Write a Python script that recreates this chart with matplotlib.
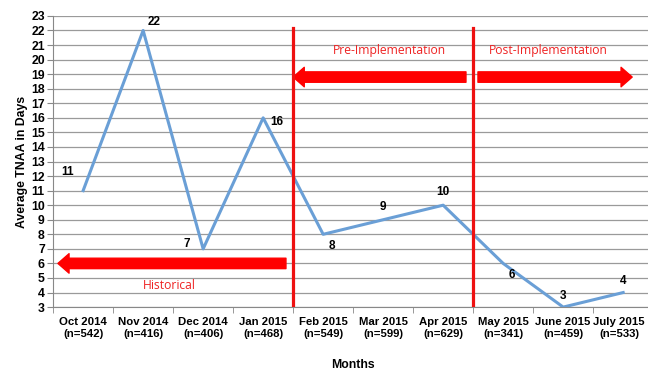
import matplotlib.pyplot as plt
from matplotlib.transforms import ScaledTranslation

months = ["Oct 2014", "Nov 2014", "Dec 2014", "Jan 2015", "Feb 2015",
          "Mar 2015", "Apr 2015", "May 2015", "June 2015", "July 2015"]
counts = [542, 416, 406, 468, 549, 599, 629, 341, 459, 533]
tnaa = [11, 22, 7, 16, 8, 9, 10, 6, 3, 4]

# label offsets in points, per month
label_offsets = [(-11, 9), (8, 2), (-12, -1), (10, -7), (6, -13),
                 (0, 5), (0, 5), (6, -13), (0, 4), (0, 4)]

plt.rcParams['font.family'] = ['Liberation Sans', 'DejaVu Sans']

fig = plt.figure(figsize=(6.48, 3.70), dpi=100)
ax = fig.add_axes([0.082, 0.170, 0.926, 0.787])

x = list(range(len(months)))
ax.plot(x, tnaa, color="#6a9fd6", linewidth=2.2, zorder=3)

for i, v in enumerate(tnaa):
    ax.annotate(str(v), (i, v), xytext=label_offsets[i], textcoords="offset points",
                ha="center", va="bottom", fontsize=8.5, fontweight="bold", color="black")

ax.set_xlim(-0.5, 9.42)
ax.set_ylim(3, 23)
ax.set_yticks(range(3, 24))
ax.set_xticks(x)
ax.set_xticklabels([f"{m}\n(n={n})" for m, n in zip(months, counts)],
                   fontsize=8.2, fontweight="bold", linespacing=1.3)
ax.set_xticks([i + 0.5 for i in range(-1, 10)], minor=True)
ax.tick_params(axis="x", which="major", length=0, pad=7)
ax.tick_params(axis="x", which="minor", length=4, color="#888888")
ax.tick_params(axis="y", labelsize=8.8, length=4, color="#888888", pad=2)
for lab in ax.get_yticklabels():
    lab.set_fontweight("bold")
# nudge the last month label so it stays inside the canvas
last = ax.get_xticklabels()[-1]
last.set_transform(last.get_transform() + ScaledTranslation(-3 / 72, 0, fig.dpi_scale_trans))

ax.grid(axis="y", color="#9a9a9a", linewidth=0.9)
ax.set_axisbelow(True)
for side in ["top", "right"]:
    ax.spines[side].set_visible(False)
ax.spines["left"].set_color("#888888")
ax.spines["bottom"].set_color("#888888")

ax.set_ylabel("Average TNAA in Days", fontsize=8.8, fontweight="bold", labelpad=2)
ax.set_xlabel("Months", fontsize=8.8, fontweight="bold", labelpad=14)

# phase boundaries
for bx in [3.5, 6.5]:
    ax.plot([bx, bx], [3, 22.2], color="#ee1111", linewidth=2.3, zorder=4)

arrow = dict(width=7.5, headwidth=14, headlength=8, color="#ff0000", shrink=0)
ax.annotate("", xy=(-0.42, 6), xytext=(3.38, 6), arrowprops=arrow)
ax.annotate("", xy=(3.5, 18.8), xytext=(6.38, 18.8), arrowprops=arrow)
ax.annotate("", xy=(9.15, 18.8), xytext=(6.58, 18.8), arrowprops=arrow)

red_text = dict(color="#ee2222", fontsize=8.7, ha="center", va="center",
                family=["Open Sans", "DejaVu Sans"])
ax.text(1.43, 4.5, "Historical", **red_text)
ax.text(5.1, 20.6, "Pre-Implementation", **red_text)
ax.text(7.75, 20.6, "Post-Implementation", **red_text)

fig.savefig("out.png", dpi=100)
